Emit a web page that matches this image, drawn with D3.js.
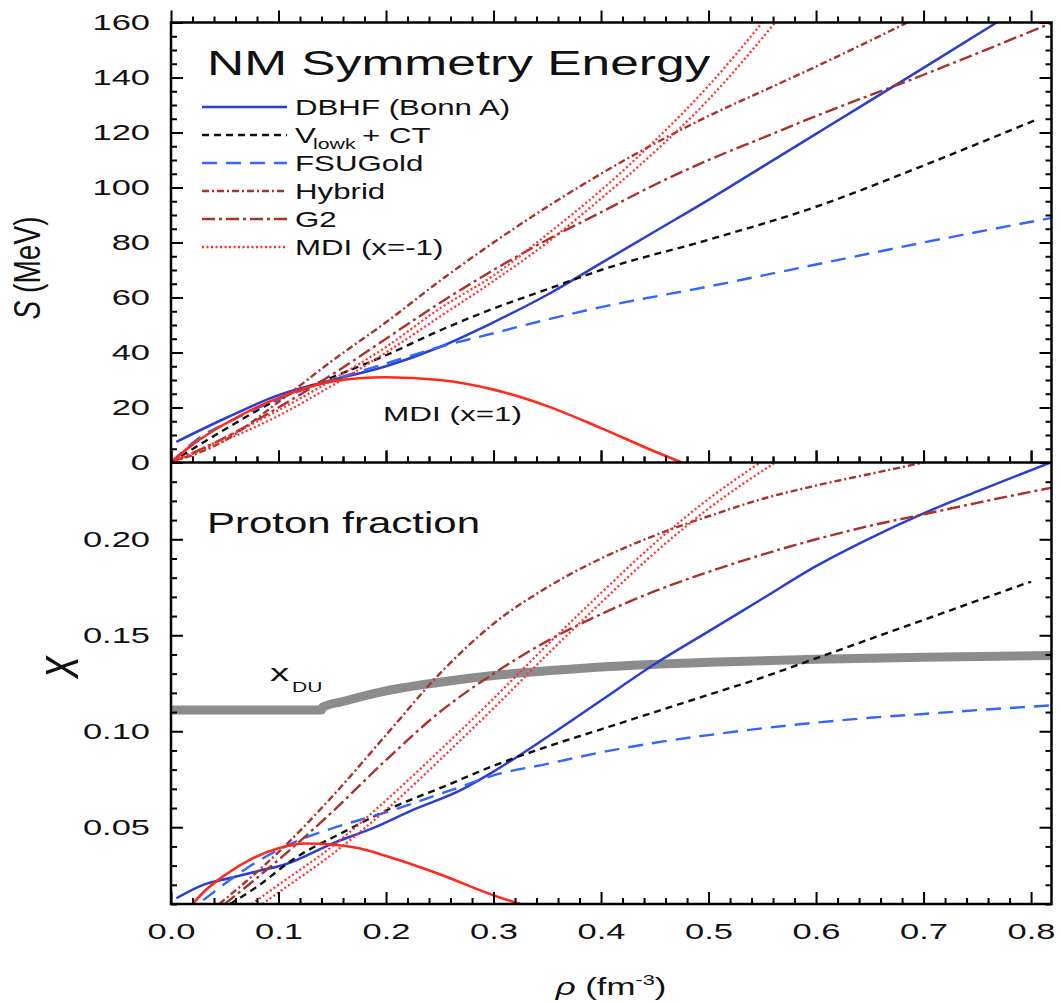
<!DOCTYPE html>
<html>
<head>
<meta charset="utf-8">
<script src="https://cdnjs.cloudflare.com/ajax/libs/d3/7.8.5/d3.min.js"></script>
<style>
  body { margin: 0; background: #fff; }
  svg { font-family: "Liberation Sans", Arial, sans-serif; }
</style>
</head>
<body>
<svg id="chart" width="1061" height="1003"></svg>
<script>
// ---- data ----
// top panel: symmetry energy S (MeV) vs density rho (fm^-3)
var dbhfS_rho = [0.005,0.05,0.1,0.15,0.2,0.25,0.3,0.35,0.4,0.45,0.5,0.55,0.6,0.65,0.7,0.768];
var dbhfS     = [7.5,16,24.5,30,35,42,51,61,72.5,84,95.5,107.5,119.5,131.5,143.5,160];
var vlowkS_rho = [0,0.05,0.1,0.15,0.2,0.25,0.3,0.35,0.4,0.5,0.6,0.7,0.807];
var vlowkS     = [0,12,23,31,39,48,56,63,70,81,93,108,125];
var fsuS_rho = [0,0.03,0.05,0.1,0.15,0.2,0.25,0.3,0.35,0.4,0.5,0.6,0.7,0.82];
var fsuS     = [0,10,14,23,30,36,42,47,52,56.5,64,72,80,89];
var hybridS_rho = [0,0.05,0.1,0.15,0.2,0.25,0.3,0.35,0.4,0.45,0.5,0.55,0.6,0.685];
var hybridS     = [0,8,22,37,51,66,80,93,105,116,126,135,144,160];
var g2S_rho = [0,0.05,0.1,0.15,0.2,0.25,0.3,0.35,0.4,0.45,0.5,0.55,0.6,0.7,0.82];
var g2S     = [0,9,20,32,45,58,70,81,91,101,110,118,126,141,160];
var mdiNegAS_rho = [0,0.05,0.1,0.15,0.2,0.25,0.3,0.35,0.4,0.45,0.5,0.55];
var mdiNegAS     = [0,9,19,30,42,56,68,83,99,117,137,160];
var mdiNegBS_rho = [0,0.05,0.1,0.15,0.2,0.25,0.3,0.35,0.4,0.45,0.5,0.562];
var mdiNegBS     = [0,8,17,28,40,53,66,80,96,113,132,160];
var mdiPosS_rho = [0,0.02,0.05,0.1,0.15,0.2,0.25,0.3,0.35,0.4,0.45,0.475];
var mdiPosS     = [0,6.5,14,23.5,29.5,31,30,26.5,20.5,12.5,4,0];

// bottom panel: proton fraction x vs density
var dbhfX_rho = [0.005,0.03,0.055,0.08,0.108,0.15,0.19,0.225,0.27,0.3,0.35,0.4,0.45,0.5,0.55,0.6,0.65,0.7,0.75,0.818];
var dbhfX     = [0.013,0.020,0.0235,0.027,0.031,0.0415,0.050,0.059,0.0695,0.079,0.097,0.116,0.135,0.152,0.169,0.186,0.2005,0.2135,0.225,0.24];
var vlowkX_rho = [0.055,0.08,0.113,0.164,0.207,0.253,0.3,0.35,0.4,0.45,0.5,0.55,0.6,0.65,0.7,0.75,0.8];
var vlowkX     = [0.01,0.019,0.033,0.0485,0.0605,0.071,0.082,0.092,0.101,0.110,0.119,0.128,0.138,0.148,0.158,0.168,0.178];
var fsuX_rho = [0.03,0.083,0.114,0.145,0.207,0.269,0.3,0.35,0.4,0.45,0.5,0.55,0.6,0.65,0.7,0.75,0.82];
var fsuX     = [0.012,0.033,0.042,0.0485,0.059,0.071,0.077,0.083,0.089,0.094,0.098,0.1015,0.1045,0.107,0.109,0.111,0.1135];
var hybridX_rho = [0.045,0.1,0.15,0.2,0.25,0.3,0.35,0.4,0.45,0.5,0.55,0.6,0.65,0.7];
var hybridX     = [0.01,0.037,0.066,0.098,0.13,0.156,0.175,0.19,0.202,0.212,0.221,0.228,0.234,0.24];
var g2X_rho = [0.05,0.1,0.15,0.2,0.25,0.3,0.35,0.4,0.45,0.5,0.55,0.6,0.65,0.7,0.75,0.82];
var g2X     = [0.01,0.033,0.058,0.085,0.11,0.13,0.147,0.161,0.173,0.183,0.192,0.2,0.207,0.213,0.219,0.227];
var mdiNegAX_rho = [0.075,0.1,0.15,0.2,0.25,0.3,0.35,0.4,0.45,0.5,0.548];
var mdiNegAX     = [0.01,0.02,0.04,0.064,0.09,0.117,0.145,0.172,0.198,0.221,0.24];
var mdiNegBX_rho = [0.085,0.1,0.15,0.2,0.25,0.3,0.35,0.4,0.45,0.5,0.562];
var mdiNegBX     = [0.01,0.016,0.036,0.059,0.085,0.112,0.14,0.167,0.193,0.216,0.24];
var mdiPosX_rho = [0.02,0.03,0.05,0.075,0.1,0.125,0.15,0.175,0.2,0.25,0.3,0.325];
var mdiPosX     = [0.01,0.016,0.025,0.0335,0.039,0.0415,0.041,0.039,0.035,0.0255,0.0145,0.01];
// direct Urca threshold
var xduRho = [0,0.14,0.141,0.16,0.2,0.25,0.3,0.35,0.4,0.5,0.6,0.7,0.82];
var xduX   = [0.111,0.111,0.1125,0.1155,0.121,0.1255,0.129,0.1315,0.1335,0.136,0.1375,0.1385,0.1395];

// tick labels
var rhoTicks = [0,0.1,0.2,0.3,0.4,0.5,0.6,0.7,0.8];
var sTicks = [0,20,40,60,80,100,120,140,160];
var xTicks = [0.05,0.10,0.15,0.20];
var legendNames = ["DBHF (Bonn A)", "Vlowk + CT", "FSUGold", "Hybrid", "G2", "MDI (x=-1)"];

// ---- layout ----
var pL = 171, pR = 1051.5, pT = 22.5, pM = 462.5, pB = 904;
var svg = d3.select("#chart");

var x = d3.scaleLinear().domain([0, 0.819]).range([pL, pR]);
var yS = d3.scaleLinear().domain([0, 160]).range([pM, pT]);
var yX = d3.scaleLinear().domain([0.01, 0.24]).range([pB, pM]);

var styles = {
  dbhf:   {color: "#2b3fcf", dash: null, w: 2.5},
  vlowk:  {color: "#111111", dash: "7,5", w: 2.4},
  fsu:    {color: "#3366ff", dash: "15,9", w: 2.4},
  hybrid: {color: "#a8322d", dash: "7,3,2,3", w: 2.4},
  g2:     {color: "#a8322d", dash: "13,4,3,4", w: 2.4},
  mdiNeg: {color: "#ff3030", dash: "2,2.5", w: 2.3},
  mdiPos: {color: "#ff2a1a", dash: null, w: 2.6}
};

var topSeries = [
  [dbhfS_rho, dbhfS, "dbhf"], [vlowkS_rho, vlowkS, "vlowk"], [fsuS_rho, fsuS, "fsu"],
  [hybridS_rho, hybridS, "hybrid"], [g2S_rho, g2S, "g2"],
  [mdiNegAS_rho, mdiNegAS, "mdiNeg"], [mdiNegBS_rho, mdiNegBS, "mdiNeg"], [mdiPosS_rho, mdiPosS, "mdiPos"]
];
var botSeries = [
  [dbhfX_rho, dbhfX, "dbhf"], [vlowkX_rho, vlowkX, "vlowk"], [fsuX_rho, fsuX, "fsu"],
  [hybridX_rho, hybridX, "hybrid"], [g2X_rho, g2X, "g2"],
  [mdiNegAX_rho, mdiNegAX, "mdiNeg"], [mdiNegBX_rho, mdiNegBX, "mdiNeg"], [mdiPosX_rho, mdiPosX, "mdiPos"]
];

var defs = svg.append("defs");
defs.append("clipPath").attr("id", "clipTop").append("rect")
  .attr("x", pL).attr("y", pT).attr("width", pR - pL).attr("height", pM - pT);
defs.append("clipPath").attr("id", "clipBot").append("rect")
  .attr("x", pL).attr("y", pM).attr("width", pR - pL).attr("height", pB - pM);

function drawSeries(list, yScale, clip) {
  var g = svg.append("g").attr("clip-path", "url(#" + clip + ")");
  var line = d3.line().x(function(d) { return x(d[0]); }).y(function(d) { return yScale(d[1]); })
    .curve(d3.curveMonotoneX);
  list.forEach(function(s) {
    var st = styles[s[2]];
    var pts = s[0].map(function(r, i) { return [r, s[1][i]]; });
    g.append("path").attr("d", line(pts)).attr("fill", "none")
      .attr("stroke", st.color).attr("stroke-width", st.w)
      .attr("stroke-dasharray", st.dash);
  });
  return g;
}

// gray x_DU band goes under the curves
var gDU = svg.append("g").attr("clip-path", "url(#clipBot)");
gDU.append("path")
  .attr("d", d3.line().x(function(d) { return x(d[0]); }).y(function(d) { return yX(d[1]); })
    .curve(d3.curveMonotoneX)(xduRho.map(function(r, i) { return [r, xduX[i]]; })))
  .attr("fill", "none").attr("stroke", "#8c8c8c").attr("stroke-width", 9);

drawSeries(topSeries, yS, "clipTop");
drawSeries(botSeries, yX, "clipBot");

// ---- axes ----
var SX = 1.5;
function axis(gen, tr, vals, size, fmt, pad) {
  var g = svg.append("g").attr("transform", tr)
    .call(gen.tickValues(vals).tickSize(size).tickSizeOuter(0).tickPadding(pad || 3).tickFormat(fmt || function() { return ""; }));
  g.select(".domain").remove();
  g.selectAll("line").attr("stroke", "#000").attr("stroke-width", 2);
  g.selectAll("text").attr("font-size", 23).attr("fill", "#111")
    .attr("font-family", "'Liberation Sans', Arial, sans-serif")
    .attr("transform", "scale(" + SX + ",1)");
  return g;
}
function minorVals(lo, hi, step, majorStep) {
  return d3.range(Math.round((hi - lo) / step) + 1).map(function(i) { return +(lo + i * step).toFixed(4); })
    .filter(function(v) { return Math.abs(v / majorStep - Math.round(v / majorStep)) > 1e-6; });
}
var rhoMinor = minorVals(0, 0.8, 0.02, 0.1);
var sMinor = minorVals(0, 160, 5, 20);
var xMinor = minorVals(0.01, 0.24, 0.01, 0.05);

// x axes: top edge, middle line (both sides), bottom edge
[["axisTop", pT, 12], ["axisBottom", pM, -12], ["axisTop", pM, 12], ["axisBottom", pB, -12]].forEach(function(a) {
  axis(d3[a[0]](x), "translate(0," + a[1] + ")", rhoMinor, a[2] / 2);
  axis(d3[a[0]](x), "translate(0," + a[1] + ")", rhoTicks, a[2]);
});
axis(d3.axisBottom(x), "translate(0," + pB + ")", rhoTicks, 0, d3.format(".1f"), 19);

// y axes top panel
axis(d3.axisLeft(yS), "translate(" + pL + ",0)", sMinor, -6);
axis(d3.axisLeft(yS), "translate(" + pL + ",0)", sTicks, -12, d3.format("d"), 14);
axis(d3.axisRight(yS), "translate(" + pR + ",0)", sMinor, -6);
axis(d3.axisRight(yS), "translate(" + pR + ",0)", sTicks, -12);
// y axes bottom panel
axis(d3.axisLeft(yX), "translate(" + pL + ",0)", xMinor, -6);
axis(d3.axisLeft(yX), "translate(" + pL + ",0)", xTicks, -12, d3.format(".2f"), 14);
axis(d3.axisRight(yX), "translate(" + pR + ",0)", xMinor, -6);
axis(d3.axisRight(yX), "translate(" + pR + ",0)", xTicks, -12);

// frame
svg.append("rect").attr("x", pL).attr("y", pT).attr("width", pR - pL).attr("height", pB - pT)
  .attr("fill", "none").attr("stroke", "#000").attr("stroke-width", 2.5);
svg.append("line").attr("x1", pL).attr("x2", pR).attr("y1", pM).attr("y2", pM)
  .attr("stroke", "#000").attr("stroke-width", 2.5);

// ---- text ----
function stext(x0, y0, str, size, sx, anchor) {
  return svg.append("text").attr("transform", "translate(" + x0 + "," + y0 + ") scale(" + sx + ",1)")
    .attr("font-size", size).attr("fill", "#111").attr("text-anchor", anchor || "start").text(str);
}
stext(207, 75, "NM Symmetry Energy", 36, 1.43);
stext(207, 533, "Proton fraction", 30, 1.4);
stext(383, 421, "MDI (x=1)", 21, 1.5);
stext(270, 681, "x", 24, 1.6);
stext(292, 692, "DU", 14, 1.5);

// legend
var legKeys = ["dbhf", "vlowk", "fsu", "hybrid", "g2", "mdiNeg"];
legKeys.forEach(function(k, i) {
  var yy = 107 + 28 * i, st = styles[k];
  svg.append("line").attr("x1", 202).attr("x2", 287).attr("y1", yy).attr("y2", yy)
    .attr("stroke", st.color).attr("stroke-width", st.w).attr("stroke-dasharray", st.dash);
  if (k === "vlowk") {
    stext(295, yy + 8, "V", 22, 1.42);
    stext(313, yy + 14, "lowk", 15, 1.42);
    stext(362, yy + 8, "+ CT", 22, 1.42);
  } else {
    stext(295, yy + 8, legendNames[i], 22, 1.42);
  }
});

// axis titles
var sLab = svg.append("text").attr("transform", "translate(40,268) rotate(-90) scale(1.08,1.4)")
  .attr("font-size", 26).attr("fill", "#111").attr("text-anchor", "middle");
sLab.append("tspan").attr("font-style", "italic").text("S");
sLab.append("tspan").text(" (MeV)");

svg.append("text").attr("transform", "translate(78,667) rotate(-90) scale(1,1.45)")
  .attr("font-size", 42).attr("font-style", "italic").attr("fill", "#111")
  .attr("text-anchor", "middle").text("x");

var rLab = svg.append("text").attr("transform", "translate(611,995) scale(1.45,1)")
  .attr("font-size", 24).attr("fill", "#111").attr("text-anchor", "middle");
rLab.append("tspan").attr("font-style", "italic").text("ρ");
rLab.append("tspan").text(" (fm");
rLab.append("tspan").attr("font-size", 15).attr("dy", -10).text("-3");
rLab.append("tspan").attr("dy", 10).text(")");
</script>
</body>
</html>
